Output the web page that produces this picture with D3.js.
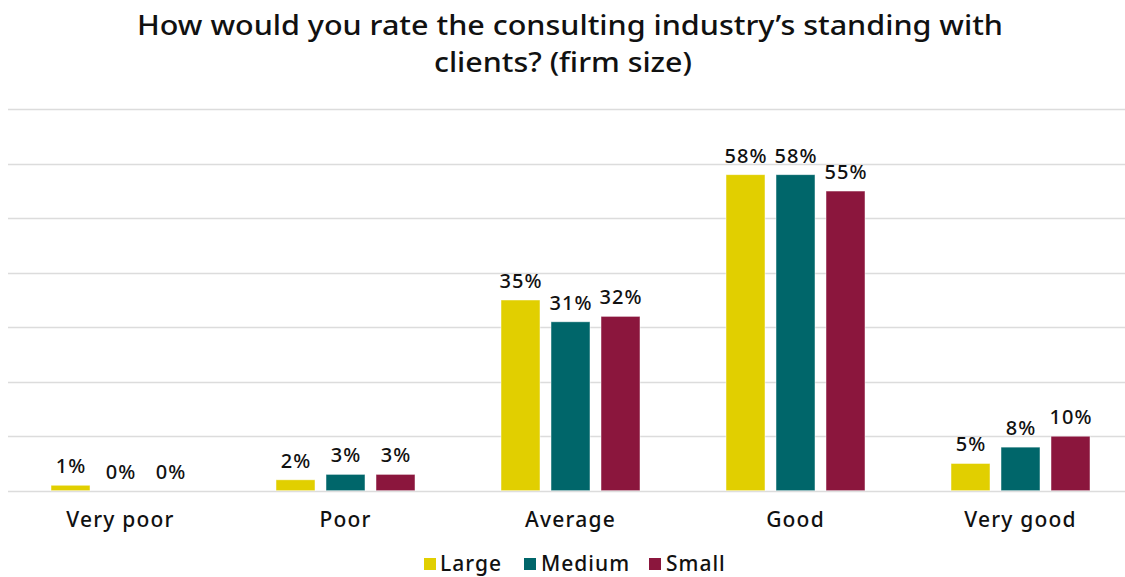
<!DOCTYPE html>
<html>
<head>
<meta charset="utf-8">
<script src="https://cdn.jsdelivr.net/npm/d3@7"></script>
<style>
  html, body { margin: 0; padding: 0; background: #fff; }
  svg { display: block; font-family: "Noto Sans", "DejaVu Sans", sans-serif; }
</style>
</head>
<body>
<svg id="chart" width="1125" height="577"></svg>
<script>
// Survey responses by firm size (percent of respondents)
const categories = ["Very poor", "Poor", "Average", "Good", "Very good"];
const seriesNames = ["Large", "Medium", "Small"];
const large  = [1, 2, 35, 58, 5];
const medium = [0, 3, 31, 58, 8];
const small  = [0, 3, 32, 55, 10];
const yTicks = [0, 10, 20, 30, 40, 50, 60, 70];
const colors = ["#e1cf00", "#00666a", "#8b163d"];

const seriesValues = [large, medium, small];
const rows = categories.map((c, i) => ({
  category: c,
  values: seriesNames.map((s, j) => ({ series: s, value: seriesValues[j][i] }))
}));

const svg = d3.select("#chart");
const W = 1125;

const x0 = d3.scaleBand().domain(categories).range([8, 1133])
  .paddingInner(1 / 3).paddingOuter(1 / 6);
const x1 = d3.scaleBand().domain(seriesNames).range([0, x0.bandwidth()])
  .paddingInner(0.22).paddingOuter(0.11);
const y = d3.scaleLinear().domain([0, 70]).range([490.7, 109.3]);

// Title
const title = svg.append("g").attr("fill", "#111")
  .attr("font-size", 27).attr("font-weight", 500).attr("text-anchor", "middle");
title.append("text").attr("x", 570).attr("y", 35)
  .attr("textLength", 866).attr("lengthAdjust", "spacingAndGlyphs")
  .text("How would you rate the consulting industry\u2019s standing with");
title.append("text").attr("x", 563).attr("y", 72)
  .attr("textLength", 258).attr("lengthAdjust", "spacingAndGlyphs")
  .text("clients? (firm size)");

// Horizontal gridlines
svg.append("g").selectAll("line").data(yTicks).join("line")
  .attr("x1", 8).attr("x2", W)
  .attr("y1", d => Math.round(y(d)) + 0.5).attr("y2", d => Math.round(y(d)) + 0.5)
  .attr("stroke", "#dcdcdc").attr("stroke-width", 1.5);

// Bars
const groups = svg.append("g").selectAll("g").data(rows).join("g")
  .attr("transform", d => `translate(${x0(d.category)},0)`);

groups.selectAll("rect").data(d => d.values).join("rect")
  .attr("x", d => x1(d.series))
  .attr("width", x1.bandwidth())
  .attr("y", d => y(d.value))
  .attr("height", d => y(0) - y(d.value))
  .attr("fill", (d, i) => colors[i])
  .attr("stroke", "#ffffff").attr("stroke-opacity", 0.6).attr("stroke-width", 0.8);

// Value labels
groups.selectAll("text").data(d => d.values).join("text")
  .attr("x", d => x1(d.series) + x1.bandwidth() / 2 + 0.5)
  .attr("y", d => y(d.value) - 12)
  .attr("text-anchor", "middle")
  .attr("font-size", 20).attr("font-weight", 500).attr("letter-spacing", 1)
  .attr("fill", "#111")
  .text(d => d.value + "%");

// Category axis
const xAxis = svg.append("g")
  .attr("transform", `translate(0,${y(0)})`)
  .call(d3.axisBottom(x0).tickSize(0).tickPadding(21));
xAxis.select(".domain").remove();
xAxis.selectAll("text").attr("font-size", 21).attr("font-weight", 500)
  .attr("letter-spacing", 1.2).attr("fill", "#111")
  .attr("font-family", "\"Noto Sans\", sans-serif");

// Legend
const legendItems = [
  { name: "Large", sx: 424, tx: 440 },
  { name: "Medium", sx: 524, tx: 541 },
  { name: "Small", sx: 649, tx: 666 }
];
const legend = svg.append("g");
legend.selectAll("rect").data(legendItems).join("rect")
  .attr("x", d => d.sx).attr("y", 558).attr("width", 12).attr("height", 12)
  .attr("fill", (d, i) => colors[i]);
legend.selectAll("text").data(legendItems).join("text")
  .attr("x", d => d.tx).attr("y", 571)
  .attr("font-size", 21).attr("font-weight", 500).attr("letter-spacing", 1)
  .attr("fill", "#111")
  .text(d => d.name);
</script>
</body>
</html>
